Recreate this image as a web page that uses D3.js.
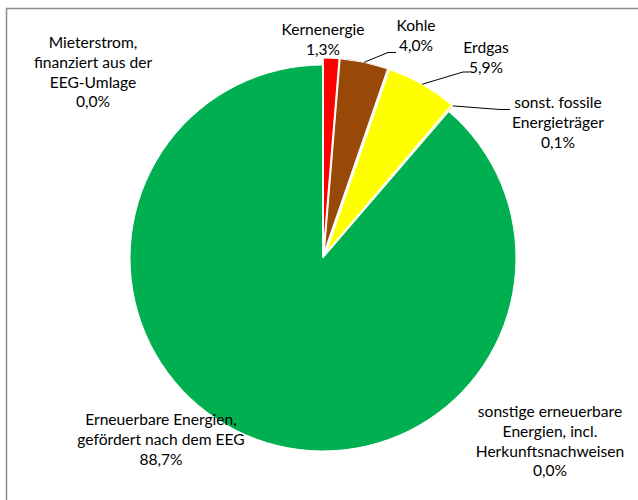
<!DOCTYPE html>
<html>
<head>
<meta charset="utf-8">
<script src="https://cdn.jsdelivr.net/npm/d3@7"></script>
<style>
  body { margin: 0; background: #fff; }
  text { font-family: Lato, "Open Sans", sans-serif; font-size: 15.6px; fill: #000; }
</style>
</head>
<body>
<div id="chart"></div>
<script>
var width = 638,
    height = 500;

// shares in percent, clockwise from 12 o'clock
var categories = ["Kernenergie", "Kohle", "Erdgas", "sonst. fossile Energieträger",
                  "Erneuerbare Energien, gefördert nach dem EEG",
                  "sonstige erneuerbare Energien, incl. Herkunftsnachweisen",
                  "Mieterstrom, finanziert aus der EEG-Umlage"];
var values = [1.3, 4.0, 5.9, 0.1, 88.7, 0.0, 0.0];
var labelLines = [
  ["Kernenergie"],
  ["Kohle"],
  ["Erdgas"],
  ["sonst. fossile", "Energieträger"],
  ["Erneuerbare Energien,", "gefördert nach dem EEG"],
  ["sonstige erneuerbare", "Energien, incl.", "Herkunftsnachweisen"],
  ["Mieterstrom,", "finanziert aus der", "EEG-Umlage"]
];

var colors = ["#ff0000", "#984807", "#ffff00", "#ffc000", "#00b050", "#4f81bd", "#92d050"];
var exploded = [true, true, true, true, false, false, false];

// label placement: centre x, first baseline, leader elbow (if any)
var labelPos = [
  {x: 323, y: 35},
  {x: 416, y: 31, elbow: [388, 52.5], end: 396},
  {x: 486, y: 53, elbow: [463, 72], end: 470},
  {x: 558, y: 108, elbow: [500, 109.5], end: 510},
  {x: 161, y: 425},
  {x: 550, y: 417},
  {x: 93, y: 48}
];

var cx = 323, cy = 258, radius = 193, explode = 7, lineH = 19.8;

var svg = d3.select("#chart").append("svg")
    .attr("width", width)
    .attr("height", height);

svg.append("rect")
    .attr("x", 6.5).attr("y", 8.5)
    .attr("width", 700).attr("height", 600)
    .attr("fill", "none")
    .attr("stroke", "#8c8c8c")
    .attr("stroke-width", 1.5);

var pie = d3.pie().sort(null).value(function(d) { return d; });
var arcs = pie(values);

var arc = d3.arc().innerRadius(0).outerRadius(radius);

var g = svg.append("g").attr("transform", "translate(" + cx + "," + cy + ")");

function offset(d, i) {
  if (!exploded[i]) return [0, 0];
  var a = (d.startAngle + d.endAngle) / 2;
  return [Math.sin(a) * explode, -Math.cos(a) * explode];
}

g.selectAll("path.slice")
  .data(arcs)
  .enter().append("path")
    .attr("class", "slice")
    .attr("d", arc)
    .attr("transform", function(d, i) {
      var o = offset(d, i);
      return "translate(" + o[0] + "," + o[1] + ")";
    })
    .attr("fill", function(d, i) { return colors[i]; })
    .attr("stroke", "#fff")
    .attr("stroke-width", 1);

// leader lines
var fmt = function(v) { return d3.format(".1f")(v).replace(".", ",") + "%"; };

arcs.forEach(function(d, i) {
  var p = labelPos[i];
  if (p.elbow) {
    var a = (d.startAngle + d.endAngle) / 2,
        r = radius + explode;
    var sx = cx + Math.sin(a) * r,
        sy = cy - Math.cos(a) * r;
    svg.append("path")
      .attr("d", d3.line()([[sx, sy], p.elbow, [p.end, p.elbow[1]]]))
      .attr("fill", "none")
      .attr("stroke", "#000")
      .attr("stroke-width", 1);
  }
});

var labels = svg.selectAll("text.lbl")
  .data(arcs)
  .enter().append("text")
    .attr("class", "lbl")
    .attr("text-anchor", "middle");

labels.each(function(d, i) {
  var t = d3.select(this),
      lines = labelLines[i].concat([fmt(values[i])]);
  lines.forEach(function(s, k) {
    t.append("tspan")
      .attr("x", labelPos[i].x)
      .attr("y", labelPos[i].y + k * lineH)
      .text(s);
  });
});
</script>
</body>
</html>
